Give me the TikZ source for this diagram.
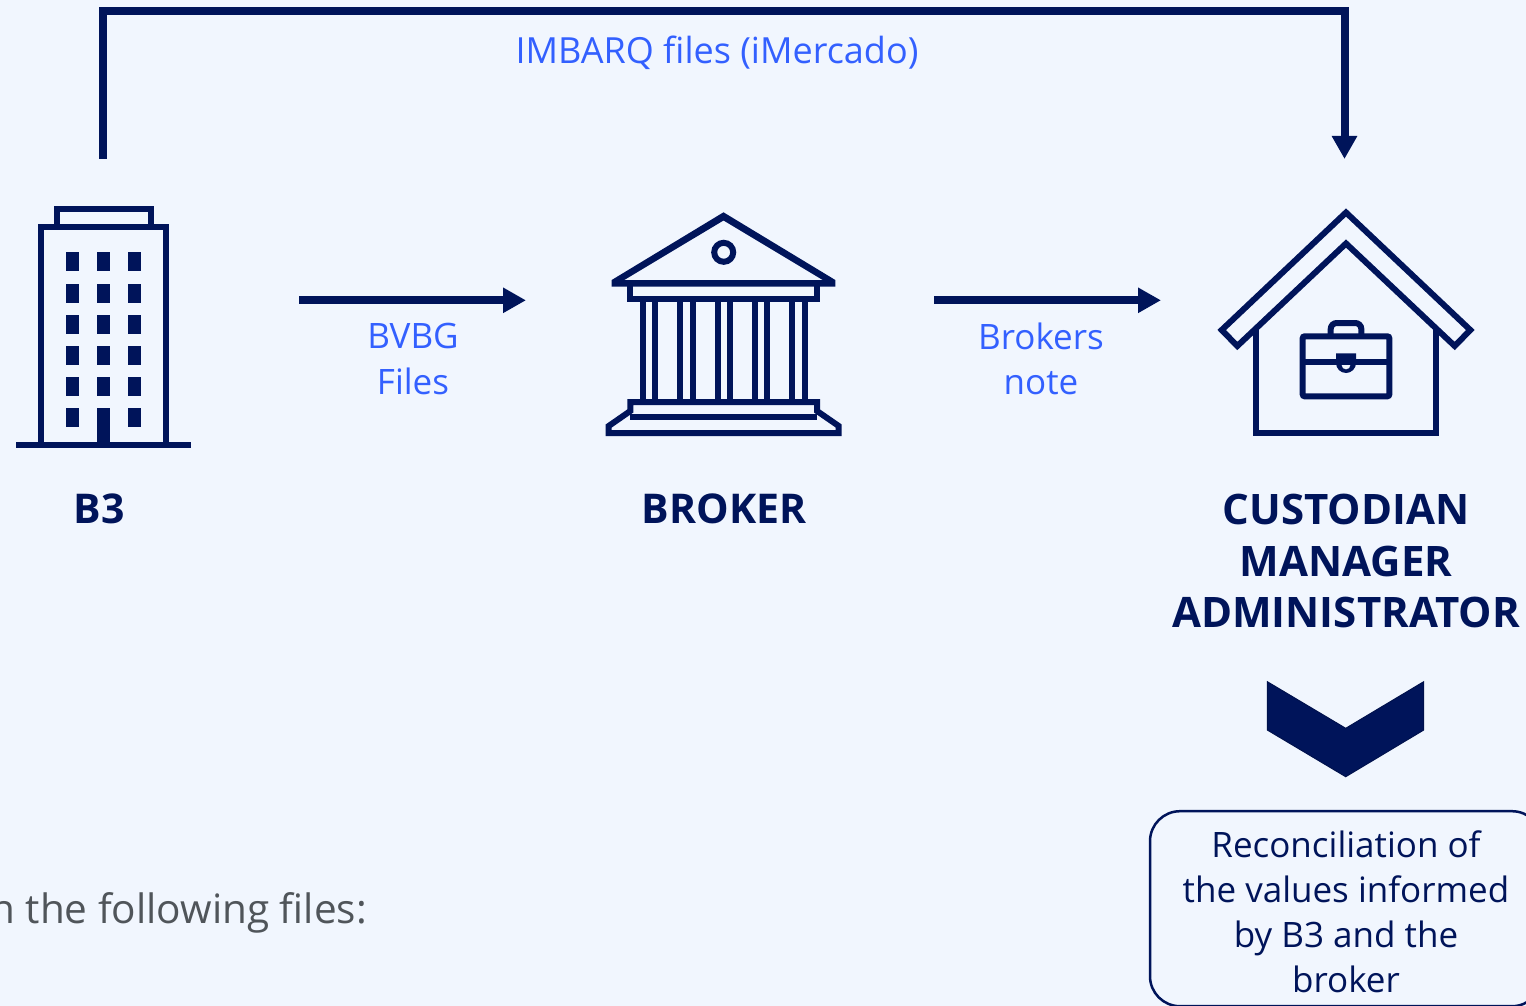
\documentclass[tikz,border=0pt]{standalone}
\usepackage{fontspec}
\setmainfont{Open Sans}
\usepackage{tikz}
\usetikzlibrary{arrows.meta}
\definecolor{pagebg}{HTML}{F1F6FE}
\definecolor{navy}{HTML}{00145A}
\definecolor{linkblue}{HTML}{3360FF}
\definecolor{notegrey}{HTML}{50555A}
\tikzset{
    flow/.style={navy,line width=8pt,-{Triangle[length=23pt,width=24pt]}},
    icon/.style={draw=navy,line width=6pt,miter limit=10},
    heading/.style={text=navy,font=\fontsize{41}{51.5}\selectfont\bfseries,align=center},
    filelabel/.style={text=linkblue,font=\fontsize{35}{45.3}\selectfont,align=center},
    resultbox/.style={draw=navy,line width=2.5pt,rounded corners=30pt,minimum width=392pt,minimum height=195pt,inner sep=0pt},
    resulttext/.style={text=navy,font=\fontsize{35}{45}\selectfont,align=center,inner sep=0pt}
}
\begin{document}
\begin{tikzpicture}[x=1pt,y=-1pt]
    \useasboundingbox (0,0) rectangle (1526,1006);
    \clip (0,0) rectangle (1526,1006);
    \fill[pagebg] (0,0) rectangle (1526,1006);

    % top file flow
    \coordinate (imbarqstart) at (103,159);
    \coordinate (imbarqleft) at (103,11.5);
    \coordinate (imbarqright) at (1344.5,11.5);
    \coordinate (imbarqend) at (1344.5,159);
    \draw[flow,miter limit=10] (imbarqstart) -- (imbarqleft) -- (imbarqright) -- (imbarqend);
    \node[filelabel,font=\fontsize{36}{45}\selectfont] (imbarqtext) at (717,53) {IMBARQ files (iMercado)};

    % B3 building
    \draw[icon] (41,445) -- (41,227) -- (166,227) -- (166,445);
    \draw[icon] (56.5,227) -- (56.5,209) -- (150.5,209) -- (150.5,227);
    \draw[icon] (16,445) -- (191,445);
    \foreach \x in {66,97,128}
        \foreach \y in {252,284,315,346,377,408}
            \fill[navy] (\x,\y) rectangle (\x+13,\y+19);
    \fill[navy] (97,408) rectangle (110,445);
    \node[heading] (b3) at (99,509) {B3};

    % first arrow
    \coordinate (bvbgstart) at (299,300.3);
    \coordinate (bvbgend) at (526,300.3);
    \draw[flow] (bvbgstart) -- (bvbgend);
    \node[filelabel] (bvbg) at (413,359) {BVBG\\Files};

    % broker building
    \fill[navy,even odd rule] (611.7,280) -- (723.5,212.3) -- (835.3,280) -- (835.3,286.7) -- (611.7,286.7) -- cycle
        (624.3,280) -- (723.5,220.5) -- (822.7,280) -- cycle;
    \draw[icon] (723.7,252.3) circle (9.5);
    \draw[icon] (630.3,284) -- (630.3,299) -- (817,299) -- (817,284);
    \foreach \x in {642.8,655.2,680.2,692.5,717.5,729.8,754.8,767.2,792.2,804.5}
        \draw[icon] (\x,299) -- (\x,402);
    \draw[icon] (630.3,402) -- (817,402) -- (817,411) -- (838.7,426) -- (838.7,433) -- (608.7,433) -- (608.7,426) -- (630.3,411) -- cycle;
    \draw[icon] (630.3,417) -- (817,417);
    \node[heading] (broker) at (724,509) {BROKER};

    % second arrow
    \coordinate (notestart) at (934,300.3);
    \coordinate (noteend) at (1161,300.3);
    \draw[flow] (notestart) -- (noteend);
    \node[filelabel] (note) at (1041,359) {Brokers\\note};

    % house with briefcase
    \draw[icon] (1346,212.5) -- (1470.3,330) -- (1454.7,346) -- (1346,243.5) -- (1237.3,346) -- (1221.7,330) -- cycle;
    \draw[icon] (1256,328.4) -- (1256,433) -- (1436.3,433) -- (1436.3,328.4);
    \draw[icon,rounded corners=2pt] (1302.7,336.3) rectangle (1389.3,396.3);
    \draw[icon,rounded corners=6pt] (1330.7,336) -- (1330.7,323) -- (1361.3,323) -- (1361.3,336);
    \draw[icon] (1302.7,361.7) -- (1389.3,361.7);
    \fill[navy,even odd rule] (1336,353.3) -- (1356,353.3) -- (1356,363) arc (0:180:10) -- cycle
        (1341.5,364.8) -- (1350.5,364.8) -- (1350.5,365) arc (0:180:4.5) -- cycle;
    \node[heading,font=\fontsize{42}{51.5}\selectfont\bfseries] (custodian) at (1346,561) {CUSTODIAN\\MANAGER\\ADMINISTRATOR};

    % chevron and result
    \filldraw[fill=navy,draw=navy!85!black,line width=1pt] (1267.3,681.7) -- (1345.7,728.3) -- (1423.7,681.7) -- (1423.7,730) -- (1345.7,776.7) -- (1267.3,730) -- cycle;
    \node[resultbox] (result) at (1346,908.7) {};
    \node[resulttext] (resultlines) at (1346,911.5) {Reconciliation of\\the values informed\\by B3 and the\\broker};

    \node[text=notegrey,font=\fontsize{40.5}{46}\selectfont,anchor=base east,inner sep=0pt] (files) at (367,923) {n the following files:};
\end{tikzpicture}
\end{document}
